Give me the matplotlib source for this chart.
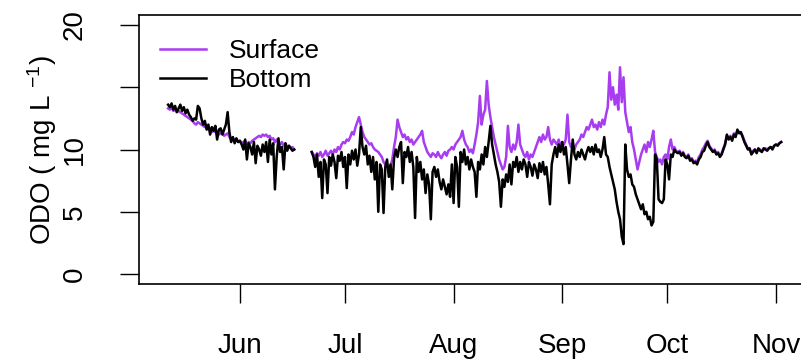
import numpy as np
import pandas as pd
import matplotlib.pyplot as plt

plt.rcParams['font.family'] = ['Liberation Sans', 'DejaVu Sans']
plt.rcParams['mathtext.default'] = 'regular'

# ODO (mg/L) read every 12 h; first deployment starts 11 May 12:00
bottom_1 = [13.6, 13.4, 13.7, 13.2, 13.5, 13.0, 13.3, 13.6, 13.1, 13.4,
            12.9, 13.2, 12.8, 12.6, 12.3, 12.5, 12.4, 13.5, 13.3, 12.5,
            12.0, 12.3, 11.6, 12.0, 11.2, 11.8, 11.5, 11.9, 10.8, 11.6,
            11.7, 11.2, 11.6, 12.0, 13.0, 11.4, 10.6, 11.0, 10.5, 10.9,
            10.6, 10.7, 10.4, 10.0, 10.8, 9.2, 10.5, 10.2, 9.6, 10.6,
            8.9, 10.3, 10.0, 9.5, 10.4, 9.8, 10.6, 9.0, 10.8, 9.6,
            10.5, 6.8, 9.4, 10.9, 9.8, 10.2, 8.4, 10.5, 9.9, 10.3,
            10.1, 9.9, 10.0]
surface_1 = [13.3, 13.2, 13.4, 13.1, 13.2, 13.0, 13.1, 13.0, 12.9, 12.8,
             12.7, 12.6, 12.5, 12.4, 12.3, 12.1, 12.0, 12.2, 12.1, 12.0,
             11.9, 11.8, 11.9, 11.6, 11.7, 11.4, 11.5, 11.4, 11.3, 11.2,
             11.3, 11.4, 11.1, 11.2, 11.3, 11.0, 10.8, 10.9, 10.7, 10.8,
             10.6, 10.7, 10.5, 10.6, 10.7, 10.4, 10.6, 10.5, 10.7, 10.8,
             10.9, 11.0, 11.1, 11.0, 11.2, 11.1, 11.2, 11.0, 11.1, 10.8,
             10.9, 10.6, 10.8, 10.5, 10.4, 10.6, 10.3, 10.5, 10.2, 10.3,
             10.1, 10.2, 10.0]

# second deployment starts 21 Jun 12:00
bottom_2 = [9.8, 9.4, 8.6, 9.6, 7.8, 9.0, 6.1, 9.2, 8.8, 6.5,
            9.4, 8.7, 9.6, 9.0, 7.7, 9.5, 9.1, 9.8, 8.6, 9.4,
            6.9, 9.6, 8.8, 9.9, 9.2, 10.0, 8.7, 9.6, 11.8, 10.2,
            9.6, 10.3, 8.8, 9.5, 8.2, 9.4, 7.6, 9.0, 5.0, 8.8,
            8.4, 4.9, 8.6, 9.2, 7.8, 8.8, 6.8, 9.3, 10.0, 9.4,
            10.2, 10.6, 7.3, 9.8, 9.4, 10.2, 9.0, 9.8, 8.6, 4.5,
            9.4, 8.2, 9.0, 7.6, 8.4, 6.5, 8.0, 7.2, 4.4, 8.2,
            8.6, 7.8, 8.4, 7.4, 6.8, 7.6, 7.0, 6.4, 7.2, 6.2,
            8.8, 5.7, 9.4, 8.6, 5.4, 9.8, 9.0, 10.0, 8.8, 9.4,
            8.4, 9.2, 8.6, 8.2, 6.2, 9.0, 8.4, 9.6, 8.8, 10.2,
            9.4, 10.6, 11.9, 10.4, 9.6, 8.8, 8.2, 7.4, 5.4, 7.6,
            7.0, 8.0, 7.4, 8.8, 7.2, 9.0, 8.6, 9.4, 8.2, 9.0,
            8.4, 9.2, 8.8, 7.8, 9.0, 8.6, 7.9, 8.8, 8.4, 7.7,
            8.9, 8.2, 9.0, 8.0, 8.6, 7.2, 5.6, 8.8, 9.6, 10.2,
            9.4, 10.4, 9.8, 10.6, 9.6, 10.2, 8.8, 7.3, 9.2, 10.8,
            9.6, 9.2, 9.8, 9.4, 10.0, 9.6, 9.2, 9.8, 10.2, 9.8,
            10.2, 9.6, 10.4, 9.8, 10.0, 9.4, 10.0, 11.0, 9.6, 9.4,
            8.6, 8.0, 7.4, 6.8, 5.8, 5.0, 4.4, 3.0, 2.4, 10.4,
            8.4, 7.8, 8.0, 7.2, 7.0, 6.4, 6.0, 5.6, 5.2, 5.6,
            4.8, 5.0, 4.4, 4.6, 3.9, 4.2, 9.6, 9.2, 6.0, 5.8,
            5.7, 6.0, 9.2, 8.8, 7.6, 9.6, 9.4, 10.0, 9.8, 9.7,
            9.8, 9.5, 9.7, 9.4, 9.3, 9.5, 9.1, 9.2, 8.9, 9.0,
            8.8, 9.2, 9.4, 9.8, 9.9, 10.3, 10.6, 10.2, 10.0, 9.8,
            9.9, 9.6, 9.7, 9.4, 9.6, 10.0, 10.4, 11.2, 10.8, 11.0,
            10.7, 11.2, 11.0, 11.6, 11.3, 11.4, 11.0, 10.6, 10.3, 10.0,
            10.1, 9.6, 9.8, 10.0, 9.7, 10.1, 9.9, 9.8, 10.1, 10.0,
            9.9, 10.1, 10.2, 10.0, 10.3, 10.4, 10.3, 10.5, 10.6]
surface_2 = [9.8, 9.6, 9.4, 9.7, 9.5, 9.8, 9.4, 9.6, 9.9, 9.5,
             9.7, 9.9, 9.6, 10.0, 9.8, 10.2, 10.0, 10.4, 10.6, 10.5,
             10.8, 10.7, 11.0, 11.4, 11.2, 11.8, 12.2, 12.6, 12.0, 11.4,
             11.0, 10.8, 10.6, 10.4, 10.5, 10.2, 10.0, 9.9, 9.8, 9.6,
             9.4, 9.0, 8.8, 8.6, 8.5, 8.7, 9.2, 10.2, 11.0, 12.4,
             11.8, 11.4, 11.0, 11.2, 10.8, 11.0, 10.6, 10.8, 10.4, 10.6,
             10.8, 11.0, 11.2, 11.5, 10.6, 10.2, 9.8, 9.6, 9.4, 9.7,
             9.6, 9.4, 9.8, 9.5, 9.3, 9.6, 9.8, 9.5, 9.9, 10.0,
             10.2, 10.0, 10.4, 10.6, 10.8, 11.0, 11.5, 10.8, 10.4, 10.2,
             9.8, 10.0, 9.7, 10.4, 11.2, 12.2, 14.3, 12.0, 12.8, 13.2,
             15.5, 13.6, 12.6, 11.8, 11.0, 10.4, 9.8, 9.2, 8.8, 8.4,
             8.6, 9.4, 11.9, 10.2, 9.8, 10.4, 10.0, 10.6, 12.0, 10.4,
             10.0, 9.6, 9.4, 9.8, 9.2, 9.6, 9.4, 9.8, 10.2, 10.6,
             11.0, 10.6, 11.2, 10.8, 11.0, 11.8, 10.8, 10.4, 10.8, 10.6,
             10.4, 10.8, 10.2, 10.6, 10.4, 10.8, 12.8, 10.6, 10.2, 10.4,
             10.0, 10.4, 10.6, 10.8, 11.2, 11.0, 11.4, 11.8, 11.6, 12.0,
             12.4, 11.8, 12.0, 11.6, 12.2, 11.8, 12.4, 12.0, 12.8, 13.4,
             16.2, 14.0, 15.0, 13.6, 14.4, 13.2, 16.6, 13.8, 15.8, 13.0,
             12.2, 11.4, 11.8, 10.6, 10.0, 9.2, 8.4, 9.0, 9.6, 10.0,
             10.4, 9.8, 10.6, 10.2, 10.8, 11.5, 9.8, 9.4, 9.0, 9.2,
             8.8, 9.4, 9.6, 9.2, 10.2, 10.8, 10.0, 10.2, 9.9, 9.8,
             9.9, 9.6, 9.8, 9.5, 9.4, 9.6, 9.2, 9.3, 9.0, 9.1,
             9.0, 9.4, 9.6, 10.0, 10.2, 10.5, 10.7, 10.3, 10.1, 9.9,
             10.0, 9.7, 9.8, 9.5, 9.7, 10.1, 10.5, 11.1, 10.9, 11.1,
             10.8, 11.3, 11.1, 11.5, 11.4, 11.3, 11.1, 10.7, 10.4, 10.1,
             10.0, 9.7, 9.9, 10.0, 9.8, 10.0, 10.0, 9.9, 10.0, 10.1,
             10.0, 10.1, 10.2, 10.1, 10.3, 10.4, 10.4, 10.5, 10.6]

months = ['Jun', 'Jul', 'Aug', 'Sep', 'Oct', 'Nov']
purple = '#A83CF0'

t1 = pd.date_range('2021-05-11 12:00', periods=len(bottom_1), freq='12h')
t2 = pd.date_range('2021-06-21 12:00', periods=len(bottom_2), freq='12h')
ts1 = pd.date_range('2021-05-11 12:00', periods=len(surface_1), freq='12h')
ts2 = pd.date_range('2021-06-21 12:00', periods=len(surface_2), freq='12h')

fig = plt.figure(figsize=(8.01, 3.61), dpi=100)
ax = fig.add_axes([139/801, 77/361, 666/801, 269/361])

ax.plot(ts1, surface_1, color=purple, lw=1.8, label='Surface')
ax.plot(ts2, surface_2, color=purple, lw=1.8)
ax.plot(t1, bottom_1, color='black', lw=1.8, label='Bottom')
ax.plot(t2, bottom_2, color='black', lw=1.8)

jun1 = pd.Timestamp('2021-06-01')
ax.set_xlim(jun1 - pd.Timedelta(days=28.8), jun1 + pd.Timedelta(days=161.3))
ax.set_ylim(-0.8, 20.8)

ax.set_xticks(pd.date_range(jun1, periods=len(months), freq='MS'))
ax.set_xticklabels(months)
ax.set_yticks([0, 5, 10, 15, 20])
ax.set_yticklabels(['0', '5', '10', '', '20'], rotation=90, va='center')
ax.tick_params(axis='both', length=14, width=1, labelsize=20, color='black')
ax.tick_params(axis='x', pad=21)
ax.tick_params(axis='y', pad=23)

for s in ['top', 'bottom', 'left']:
    ax.spines[s].set_linewidth(1.2)
ax.spines['right'].set_visible(False)

ax.set_ylabel('ODO ( mg L $^{-1}$)', fontsize=20)
ax.yaxis.set_label_coords(-0.146, 0.5)
ax.yaxis.label.set_va('center')

ax.legend(loc='upper left', bbox_to_anchor=(0.0315, 0.91), frameon=False,
          fontsize=19, handlelength=1.75, handletextpad=0.85,
          labelspacing=0.2, borderpad=0, borderaxespad=0)

fig.savefig('out.png', dpi=100)
